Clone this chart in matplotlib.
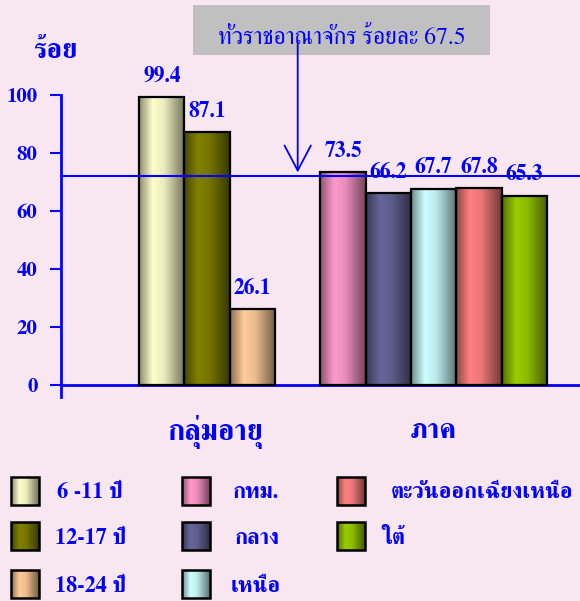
import matplotlib
matplotlib.use("Agg")
import matplotlib.pyplot as plt
from matplotlib.patches import Rectangle
from matplotlib.colors import to_rgb
import numpy as np

# ---------------- data ----------------
age_groups = ["6 -11 ปี", "12-17 ปี", "18-24 ปี"]
age_values = [99.4, 87.1, 26.1]
age_colors = ["#FFFFCC", "#808000", "#FFCC99"]

regions = ["กทม.", "กลาง", "เหนือ", "ตะวันออกเฉียงเหนือ", "ใต้"]
region_values = [73.5, 66.2, 67.7, 67.8, 65.3]
region_colors = ["#FF99CC", "#666699", "#CCFFFF", "#FF8080", "#99CC00"]

group_labels = ["กลุ่มอายุ", "ภาค"]
y_ticks = [0, 20, 40, 60, 80, 100]
y_unit = "ร้อย"
national_text = "ทั่วราชอาณาจักร ร้อยละ 67.5"
national_line = 72.0

# ---------------- style ----------------
BG = "#F8E6F0"
BLUE = "#0000FF"
FONT = ["FreeSerif", "DejaVu Sans"]
plt.rcParams["font.family"] = FONT

W, H = 580, 601
fig = plt.figure(figsize=(W / 100, H / 100), dpi=100, facecolor=BG)

def px(x0, y0, x1, y1):
    """figure-pixel box (top-left origin) -> add_axes rect"""
    return [x0 / W, 1 - y1 / H, (x1 - x0) / W, (y1 - y0) / H]

ax = fig.add_axes(px(61, 95, 580, 397))
ax.set_facecolor("none")

age_pos = np.arange(len(age_values))
reg_pos = np.arange(len(region_values)) + len(age_values) + 1
bar_w = 1.0

def shade(color, n=64):
    t = np.linspace(0, 1, n)
    f = np.interp(t, [0, 0.3, 0.55, 1], [0.55, 1.0, 0.92, 0.45])
    rgb = np.array(to_rgb(color))
    img = (rgb[None, :] * f[:, None])[None, :, :]
    return np.clip(img, 0, 1)

def gradient_bars(a, pos, vals, colors):
    bars = a.bar(pos, vals, width=bar_w, facecolor="none",
                 edgecolor="black", linewidth=1.6, zorder=3)
    for b, c in zip(bars, colors):
        x0, y0 = b.get_x(), b.get_y()
        im = a.imshow(shade(c), extent=[x0, x0 + b.get_width(), y0, y0 + b.get_height()],
                      aspect="auto", interpolation="bilinear", zorder=2)
        im.set_clip_path(b)
    return bars

gradient_bars(ax, age_pos, age_values, age_colors)
gradient_bars(ax, reg_pos, region_values, region_colors)

for p, v in zip(list(age_pos) + list(reg_pos), age_values + region_values):
    ax.annotate(f"{v:.1f}", (p, v), xytext=(0, 11), textcoords="offset points",
                ha="center", va="baseline", color=BLUE, fontsize=15.5,
                fontweight="bold")

ax.axhline(national_line, color=BLUE, lw=1.5, zorder=4)

ax.set_xlim(-2.225, 9.232)
ax.set_ylim(-4.14, 100)

for s in ["top", "right"]:
    ax.spines[s].set_visible(False)
ax.spines["left"].set_color(BLUE)
ax.spines["left"].set_linewidth(2)
ax.spines["bottom"].set_color(BLUE)
ax.spines["bottom"].set_linewidth(2)
ax.spines["bottom"].set_position(("data", 0))
ax.set_xticks([])
ax.set_yticks(y_ticks)
ax.tick_params(axis="y", direction="out", length=8, width=1.5, color=BLUE,
               pad=9, labelsize=15, labelcolor=BLUE)
for lab in ax.get_yticklabels():
    lab.set_fontweight("bold")

# group labels under axis
ax.text(age_pos.mean() + 0.17, -16.2, group_labels[0], ha="center", va="center",
        color=BLUE, fontsize=21, fontweight="bold", clip_on=False)
ax.text(reg_pos.mean(), -16.2, group_labels[1], ha="center", va="center",
        color=BLUE, fontsize=20.5, fontweight="bold", clip_on=False)

# arrow from the national box down to the line
ax.annotate("", xy=(3, 73.3), xytext=(3, 117.5), xycoords="data",
            arrowprops=dict(arrowstyle="->,head_length=1.8,head_width=0.95",
                            color=BLUE, lw=1.3, shrinkA=0, shrinkB=0),
            annotation_clip=False, zorder=6)

# overlay axes in pixel space for box, unit label and legend
ov = fig.add_axes([0, 0, 1, 1], zorder=-1)
ov.set_xlim(0, W)
ov.set_ylim(H, 0)
ov.axis("off")
ov.add_patch(Rectangle((193, 5), 297, 50, facecolor="#C0C0C0", edgecolor="none"))

top = fig.add_axes([0, 0, 1, 1], zorder=5)
top.set_xlim(0, W)
top.set_ylim(H, 0)
top.axis("off")
top.text(341.5, 44, national_text, ha="center", va="baseline", color=BLUE,
         fontsize=17)
top.text(55, 52, y_unit, ha="center", va="center", color=BLUE, fontsize=20,
         fontweight="bold")

# legend
labels = age_groups + regions
colors = age_colors + region_colors
sq_x = [11, 11, 11, 182, 182, 182, 337, 337]
sq_y = [491, 536, 584, 491, 536, 584, 491, 536]
tx_x = [57, 55, 55, 233, 235, 231, 391, 381]
S = 28
for lab, c, x, y, tx in zip(labels, colors, sq_x, sq_y, tx_x):
    r = Rectangle((x, y - S / 2), S, S, facecolor="none", edgecolor="black",
                  lw=1.8, zorder=3)
    top.add_patch(r)
    im = top.imshow(shade(c), extent=[x, x + S, y + S / 2, y - S / 2],
                    aspect="auto", interpolation="bilinear", zorder=2)
    im.set_clip_path(r)
    top.text(tx, y + 2, lab, ha="left", va="center", color=BLUE, fontsize=16,
             fontweight="bold")
top.set_xlim(0, W)
top.set_ylim(H, 0)

fig.savefig("out.png", dpi=100, facecolor=BG)
